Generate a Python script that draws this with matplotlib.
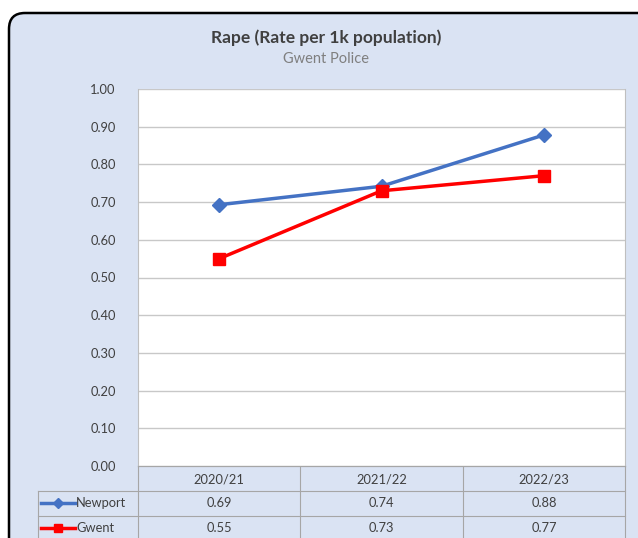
import matplotlib.pyplot as plt
from matplotlib.patches import FancyBboxPatch

# data
years = ["2020/21", "2021/22", "2022/23"]
newport = [0.693, 0.742, 0.878]
gwent = [0.55, 0.73, 0.77]
newport_txt = ["0.69", "0.74", "0.88"]
gwent_txt = ["0.55", "0.73", "0.77"]

W, H = 638, 538
bg = '#DAE3F3'
blue = '#4472C4'
red = '#FF0000'
grid_c = '#C8C8C8'
tab_c = '#A6A6A6'
txt_c = '#404040'

plt.rcParams['font.family'] = ['Lato', 'DejaVu Sans']

fig = plt.figure(figsize=(W / 100, H / 100), dpi=100, facecolor='white')

# background panel with rounded border (pixel coords)
axb = fig.add_axes([0, 0, 1, 1])
axb.set_xlim(0, W)
axb.set_ylim(H, 0)
axb.axis('off')
axb.add_patch(FancyBboxPatch((9, 13), 660, 600, boxstyle="round,pad=0,rounding_size=16",
                             fc=bg, ec='black', lw=1.8))

axb.text(326, 38, "Rape (Rate per 1k population)", ha='center', va='center',
         fontsize=12.5, fontweight='bold', color=txt_c)
axb.text(326, 59, "Gwent Police", ha='center', va='center', fontsize=10.5, color='#7F7F7F')

# plot area
L, R, T, B = 138, 625, 89, 466
ax = fig.add_axes([L / W, (H - B) / H, (R - L) / W, (B - T) / H])
ax.set_facecolor('white')
x = [0.5, 1.5, 2.5]
ax.plot(x, newport, color=blue, lw=2.5, marker='D', ms=7.5, zorder=3)
ax.plot(x, gwent, color=red, lw=2.5, marker='s', ms=9, zorder=3)
ax.set_xlim(0, 3)
ax.set_ylim(0, 1)
ax.set_yticks([i / 10 for i in range(11)])
ax.set_yticklabels([f"{i / 10:.2f}" for i in range(11)], fontsize=9.3, color=txt_c)
ax.set_xticks([])
ax.tick_params(axis='y', length=0, pad=16)
ax.grid(axis='y', color=grid_c, lw=1)
ax.set_axisbelow(True)
ax.spines['top'].set_visible(False)
for s in ['left', 'right', 'bottom']:
    ax.spines[s].set_color(tab_c)
    ax.spines[s].set_linewidth(0.8)
ax.spines['left'].set_color('#BFBFBF')
ax.spines['right'].set_color('#BFBFBF')

# data table
cols = [138, 300, 463, 625]
rows = [466, 491, 516, 541]
lw = 0.8
axb.plot([138, 625], [rows[0]] * 2, color=tab_c, lw=lw)
axb.plot([38, 625], [rows[1]] * 2, color=tab_c, lw=lw)
axb.plot([38, 625], [rows[2]] * 2, color=tab_c, lw=lw)
for cx in cols:
    axb.plot([cx, cx], [rows[0], H], color=tab_c, lw=lw)
axb.plot([38, 38], [rows[1], H], color=tab_c, lw=lw)

fs = 9.3
centers = [(cols[i] + cols[i + 1]) / 2 for i in range(3)]
for cx, yr in zip(centers, years):
    axb.text(cx, 479, yr, ha='center', va='center', fontsize=fs, color=txt_c)
for cx, t in zip(centers, newport_txt):
    axb.text(cx, 503, t, ha='center', va='center', fontsize=fs, color=txt_c)
for cx, t in zip(centers, gwent_txt):
    axb.text(cx, 528, t, ha='center', va='center', fontsize=fs, color=txt_c)

axb.plot([41, 75], [503, 503], color=blue, lw=2.5)
axb.plot([58], [503], color=blue, marker='D', ms=5)
axb.plot([41, 75], [528, 528], color=red, lw=2.5)
axb.plot([58], [528], color=red, marker='s', ms=6)
axb.text(76, 503, "Newport", ha='left', va='center', fontsize=fs, color=txt_c)
axb.text(76, 528, "Gwent", ha='left', va='center', fontsize=fs, color=txt_c)

fig.savefig('out.png', dpi=100, facecolor='white')
